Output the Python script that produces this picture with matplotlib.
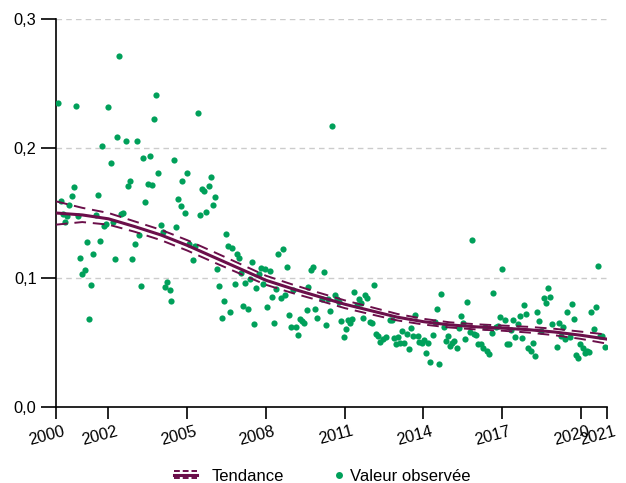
import matplotlib
matplotlib.use("Agg")
import matplotlib.pyplot as plt
from matplotlib.lines import Line2D
from matplotlib.legend_handler import HandlerBase
from matplotlib.ticker import FuncFormatter
from matplotlib.transforms import ScaledTranslation

plt.rcParams["font.family"] = ["Liberation Sans", "DejaVu Sans"]

GREEN = "#00a05a"
PURPLE = "#6b0f4a"

# observed values (decimal year, value)
obs_year = [
    2000.09, 2000.18, 2000.26, 2000.34, 2000.43, 2000.51, 2000.60, 2000.67, 2000.76, 2000.84,
    2000.93, 2001.00, 2001.09, 2001.17, 2001.25, 2001.34, 2001.42, 2001.51, 2001.59, 2001.67,
    2001.76, 2001.83, 2001.91, 2001.99, 2002.08, 2002.17, 2002.25, 2002.32, 2002.41, 2002.48,
    2002.56, 2002.67, 2002.74, 2002.83, 2002.91, 2003.00, 2003.08, 2003.17, 2003.25, 2003.33,
    2003.40, 2003.49, 2003.57, 2003.66, 2003.73, 2003.81, 2003.90, 2004.00, 2004.09, 2004.15,
    2004.24, 2004.33, 2004.40, 2004.50, 2004.57, 2004.66, 2004.75, 2004.81, 2004.90, 2004.99,
    2005.08, 2005.22, 2005.31, 2005.40, 2005.49, 2005.56, 2005.65, 2005.73, 2005.82, 2005.90,
    2005.97, 2006.07, 2006.15, 2006.22, 2006.31, 2006.39, 2006.48, 2006.56, 2006.64, 2006.72,
    2006.81, 2006.89, 2006.97, 2007.06, 2007.14, 2007.22, 2007.31, 2007.39, 2007.48, 2007.56,
    2007.63, 2007.72, 2007.80, 2007.89, 2007.98, 2008.05, 2008.14, 2008.22, 2008.30, 2008.38,
    2008.47, 2008.56, 2008.64, 2008.72, 2008.80, 2008.89, 2008.97, 2009.04, 2009.14, 2009.21,
    2009.30, 2009.38, 2009.46, 2009.55, 2009.62, 2009.71, 2009.78, 2009.88, 2009.95, 2010.13,
    2010.20, 2010.29, 2010.38, 2010.45, 2010.53, 2010.63, 2010.71, 2010.80, 2010.87, 2010.96,
    2011.04, 2011.13, 2011.20, 2011.29, 2011.37, 2011.46, 2011.54, 2011.61, 2011.70, 2011.79,
    2011.86, 2011.96, 2012.03, 2012.12, 2012.20, 2012.28, 2012.36, 2012.45, 2012.59, 2012.73,
    2012.79, 2012.87, 2012.96, 2013.03, 2013.11, 2013.19, 2013.27, 2013.37, 2013.44, 2013.53,
    2013.61, 2013.69, 2013.78, 2013.85, 2013.94, 2014.02, 2014.10, 2014.19, 2014.26, 2014.36,
    2014.43, 2014.52, 2014.61, 2014.68, 2014.78, 2014.85, 2014.94, 2015.02, 2015.10, 2015.18,
    2015.27, 2015.35, 2015.43, 2015.51, 2015.60, 2015.67, 2015.77, 2015.85, 2015.93, 2016.02,
    2016.09, 2016.19, 2016.26, 2016.35, 2016.43, 2016.50, 2016.60, 2016.67, 2016.77, 2016.84,
    2016.93, 2017.00, 2017.10, 2017.18, 2017.26, 2017.34, 2017.43, 2017.50, 2017.60, 2017.67,
    2017.76, 2017.84, 2017.92, 2018.00, 2018.09, 2018.17, 2018.26, 2018.33, 2018.42, 2018.49,
    2018.59, 2018.66, 2018.75, 2018.84, 2018.91, 2019.08, 2019.16, 2019.25, 2019.33, 2019.41,
    2019.49, 2019.58, 2019.67, 2019.74, 2019.83, 2019.91, 2019.98, 2020.07, 2020.15, 2020.24,
    2020.31, 2020.40, 2020.49, 2020.58, 2020.67, 2020.74, 2020.82, 2020.91,
]
obs_value = [
    0.2347, 0.1592, 0.1494, 0.1429, 0.1475, 0.1560, 0.1630, 0.1700, 0.2328, 0.1475,
    0.1155, 0.1031, 0.1062, 0.1278, 0.0677, 0.0946, 0.1180, 0.1483, 0.1638, 0.1283,
    0.2016, 0.1403, 0.1416, 0.2316, 0.1884, 0.1429, 0.1142, 0.2088, 0.2716, 0.1496,
    0.1498, 0.2060, 0.1705, 0.1747, 0.1143, 0.1261, 0.2054, 0.1331, 0.0933, 0.1922,
    0.1584, 0.1726, 0.1938, 0.1713, 0.2230, 0.2411, 0.1812, 0.1409, 0.1351, 0.0925,
    0.0969, 0.0905, 0.0818, 0.1907, 0.1390, 0.1605, 0.1558, 0.1744, 0.1502, 0.1809,
    0.1258, 0.1137, 0.1248, 0.2274, 0.1481, 0.1688, 0.1669, 0.1504, 0.1708, 0.1775,
    0.1560, 0.1622, 0.1067, 0.0936, 0.0692, 0.0816, 0.1339, 0.1248, 0.0736, 0.1233,
    0.0950, 0.1180, 0.1155, 0.1040, 0.0778, 0.0959, 0.0757, 0.0988, 0.1122, 0.0641,
    0.0917, 0.1026, 0.1072, 0.0953, 0.1066, 0.0775, 0.1050, 0.0847, 0.0646, 0.0913,
    0.1186, 0.0841, 0.1225, 0.0866, 0.1085, 0.0709, 0.0616, 0.0907, 0.0622, 0.0553,
    0.0681, 0.0667, 0.0650, 0.0747, 0.0928, 0.1057, 0.1083, 0.0758, 0.0690, 0.0832,
    0.1041, 0.0636, 0.0832, 0.0742, 0.2173, 0.0866, 0.0832, 0.0809, 0.0664, 0.0545,
    0.0607, 0.0669, 0.0649, 0.0680, 0.0889, 0.0785, 0.0832, 0.0806, 0.0688, 0.0863,
    0.0840, 0.0659, 0.0651, 0.0943, 0.0568, 0.0550, 0.0502, 0.0525, 0.0540, 0.0674,
    0.0674, 0.0535, 0.0486, 0.0540, 0.0498, 0.0591, 0.0498, 0.0564, 0.0450, 0.0610,
    0.0548, 0.0713, 0.0550, 0.0504, 0.0498, 0.0522, 0.0421, 0.0498, 0.0349, 0.0553,
    0.0661, 0.0757, 0.0333, 0.0876, 0.0618, 0.0514, 0.0548, 0.0473, 0.0494, 0.0512,
    0.0457, 0.0610, 0.0703, 0.0646, 0.0527, 0.0809, 0.0579, 0.1295, 0.0566, 0.0556,
    0.0486, 0.0486, 0.0455, 0.0620, 0.0432, 0.0409, 0.0572, 0.0881, 0.0620, 0.0628,
    0.0698, 0.1067, 0.0674, 0.0491, 0.0488, 0.0595, 0.0674, 0.0540, 0.0641, 0.0700,
    0.0533, 0.0785, 0.0719, 0.0457, 0.0436, 0.0494, 0.0398, 0.0731, 0.0667, 0.0584,
    0.0840, 0.0806, 0.0922, 0.0853, 0.0643, 0.0467, 0.0653, 0.0550, 0.0622, 0.0525,
    0.0734, 0.0540, 0.0798, 0.0682, 0.0403, 0.0382, 0.0488, 0.0457, 0.0419, 0.0434,
    0.0429, 0.0731, 0.0605, 0.0775, 0.1093, 0.0548, 0.0550, 0.0463,
]

# smoothed trend with confidence band
trend_year = list(range(2000, 2022))
trend = [0.1500, 0.1485, 0.1455, 0.1395, 0.1330, 0.1250, 0.1160, 0.1070, 0.0980, 0.0915, 0.0855,
         0.0795, 0.0745, 0.0695, 0.0660, 0.0635, 0.0620, 0.0610, 0.0598, 0.0580, 0.0555, 0.0525]
trend_low = [0.1410, 0.1430, 0.1410, 0.1355, 0.1290, 0.1210, 0.1120, 0.1032, 0.0945, 0.0882, 0.0825,
             0.0765, 0.0717, 0.0670, 0.0638, 0.0615, 0.0600, 0.0590, 0.0576, 0.0555, 0.0527, 0.0490]
trend_high = [0.1590, 0.1540, 0.1500, 0.1435, 0.1370, 0.1290, 0.1200, 0.1108, 0.1015, 0.0948, 0.0885,
              0.0825, 0.0773, 0.0720, 0.0682, 0.0655, 0.0640, 0.0630, 0.0620, 0.0605, 0.0583, 0.0560]

x_ticks = [2000, 2002, 2005, 2008, 2011, 2014, 2017, 2020, 2021]
y_ticks = [0.0, 0.1, 0.2, 0.3]


class TrendHandler(HandlerBase):
    def create_artists(self, legend, orig, xd, yd, width, height, fontsize, trans):
        y0 = height / 2 - yd
        arts = []
        for dy, ls, lw in [(-0.3 * height, (0, (3, 1.5)), 1.4), (0, "-", 2.2), (0.3 * height, (0, (3, 1.5)), 1.4)]:
            arts.append(Line2D([-xd, width - xd], [y0 + dy] * 2, color=PURPLE, linestyle=ls,
                               linewidth=lw, transform=trans))
        return arts


class DotHandler(HandlerBase):
    # put the dot close to its text, like the original legend
    def create_artists(self, legend, orig, xd, yd, width, height, fontsize, trans):
        m = Line2D([width - xd + 2], [height / 2 - yd], marker="o", ls="none", markersize=5,
                   color=GREEN, markeredgewidth=0, transform=trans)
        return [m]


fig = plt.figure(figsize=(6.26, 4.83), dpi=100)
ax = fig.add_axes([0.0895, 0.1573, 0.8801, 0.8034])

ax.scatter(obs_year, obs_value, s=20, color=GREEN, linewidths=0, zorder=3)
ax.plot(trend_year, trend, color=PURPLE, lw=2.2, zorder=4)
ax.plot(trend_year, trend_low, color=PURPLE, lw=1.4, ls=(0, (6, 3.5)), zorder=4)
ax.plot(trend_year, trend_high, color=PURPLE, lw=1.4, ls=(0, (6, 3.5)), zorder=4)

ax.set_xlim(2000, 2021)
ax.set_ylim(0, 0.3)
ax.set_xticks(x_ticks)
ax.set_yticks(y_ticks)
ax.yaxis.set_major_formatter(FuncFormatter(lambda v, p: f"{v:.1f}".replace(".", ",")))

for y in y_ticks[1:]:
    ax.axhline(y, color="#cccccc", lw=1, ls=(0, (4, 3)), zorder=1)

for s in ["top", "right"]:
    ax.spines[s].set_visible(False)
for s in ["left", "bottom"]:
    ax.spines[s].set_linewidth(1.2)

ax.tick_params(axis="y", length=11, width=1.2, pad=3, labelsize=11.8)
ax.tick_params(axis="x", length=8.5, width=1.2, pad=3.5, labelsize=11.8)
shift = ScaledTranslation(-0.09, 0, fig.dpi_scale_trans)
for lab in ax.get_xticklabels():
    lab.set_rotation(15)
    lab.set_ha("center")
    lab.set_transform(lab.get_transform() + shift)

h_trend = Line2D([], [], color=PURPLE)
h_obs = Line2D([], [], color=GREEN)
fig.legend([h_trend, h_obs], ["Tendance", "Valeur observée"],
           handler_map={h_trend: TrendHandler(), h_obs: DotHandler()},
           loc="center", bbox_to_anchor=(0.515, 0.014), ncol=2, frameon=False, fontsize=12,
           handlelength=1.4, handletextpad=0.85, columnspacing=1.75)

fig.savefig("out.png", dpi=100)
